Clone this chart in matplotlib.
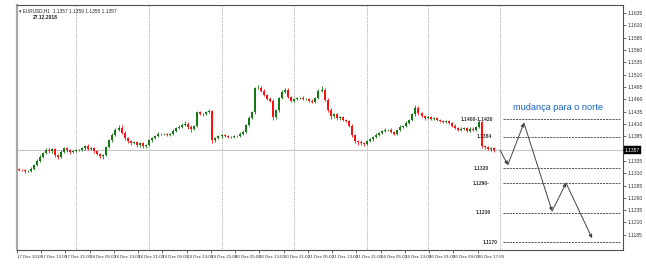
import matplotlib
matplotlib.use("Agg")
import matplotlib.pyplot as plt
import numpy as np

# ---------------- data ----------------
closes = [
1.1317,1.1316,1.1314,1.1315,1.1319,1.1327,1.1335,1.1343,1.1351,1.1357,
1.1355,1.1359,1.1347,1.1343,1.1353,1.1361,1.1357,1.1353,1.1355,1.1357,
1.1357,1.1361,1.1365,1.1359,1.1361,1.1355,1.1349,1.1345,1.1347,1.1363,
1.1377,1.1388,1.1398,1.1402,1.1392,1.1381,1.1375,1.1371,1.1373,1.1367,
1.1371,1.1365,1.1367,1.1377,1.1381,1.1385,1.1390,1.1390,1.1390,1.1388,
1.1390,1.1396,1.1402,1.1404,1.1408,1.1410,1.1404,1.1400,1.1406,1.1434,
1.1430,1.1430,1.1434,1.1436,1.1377,1.1381,1.1385,1.1388,1.1385,1.1384,
1.1384,1.1385,1.1385,1.1390,1.1394,1.1408,1.1422,1.1434,1.1483,1.1483,
1.1477,1.1469,1.1461,1.1457,1.1424,1.1438,1.1463,1.1475,1.1479,1.1465,
1.1457,1.1461,1.1463,1.1463,1.1461,1.1461,1.1457,1.1455,1.1463,1.1477,
1.1479,1.1459,1.1438,1.1426,1.1430,1.1422,1.1424,1.1418,1.1416,1.1406,
1.1388,1.1375,1.1373,1.1371,1.1369,1.1375,1.1379,1.1384,1.1388,1.1392,
1.1396,1.1398,1.1398,1.1394,1.1390,1.1398,1.1404,1.1406,1.1412,1.1418,
1.1430,1.1442,1.1432,1.1426,1.1422,1.1424,1.1420,1.1422,1.1418,1.1416,
1.1414,1.1416,1.1412,1.1406,1.1402,1.1398,1.1400,1.1402,1.1396,1.1400,
1.1398,1.1404,1.1414,1.1365,1.1363,1.1359,1.1361,1.1357]
first_open = 1.1318

upper_wick_pips = [
2,1,2,1,3,2,3,4,3,5, 4,3,2,3,4,3,2,3,2,2, 2,3,2,4,2,2,3,2,2,3,
3,4,3,5,6,3,2,3,2,3, 2,3,2,2,3,2,3,2,2,2, 2,3,2,4,3,6,4,3,2,2,
3,2,2,4,3,3,2,2,2,3, 2,2,2,3,3,2,4,3,2,6, 5,3,2,4,3,3,2,3,4,3,
2,2,2,2,3,2,2,3,2,3, 8,3,3,4,3,2,3,2,2,3, 3,2,3,4,2,2,3,2,3,2,
2,3,2,3,2,2,3,2,3,2, 3,6,4,3,2,3,2,3,2,3, 2,2,3,2,3,2,3,2,2,3,
3,2,4,3,2,3,2,2]
lower_wick_pips = [
2,2,3,2,3,2,3,2,3,2, 3,4,5,4,3,2,3,3,2,2, 2,2,3,2,2,3,3,4,6,3,
2,3,2,2,3,3,3,4,2,3, 4,3,3,2,3,2,2,2,3,2, 2,2,3,2,2,2,5,6,2,3,
2,3,2,2,6,3,2,3,2,2, 2,2,2,2,3,2,3,2,3,2, 2,3,2,3,6,4,3,2,2,3,
3,2,2,2,2,3,2,3,2,2, 2,3,4,6,3,3,4,2,3,3, 4,3,6,3,4,2,2,3,2,3,
2,2,3,2,3,2,2,2,3,2, 2,3,3,2,3,2,2,2,3,2, 2,3,2,3,2,3,2,2,3,2,
2,2,2,3,4,2,3,3]

x_labels = ["17 Dec 2018", "17 Dec 13:00", "17 Dec 21:00", "18 Dec 05:00",
            "18 Dec 13:00", "18 Dec 21:00", "19 Dec 05:00", "19 Dec 13:00",
            "19 Dec 21:00", "20 Dec 05:00", "20 Dec 13:00", "20 Dec 21:00",
            "21 Dec 05:00", "21 Dec 13:00", "21 Dec 21:00", "24 Dec 05:00",
            "24 Dec 13:00", "26 Dec 01:00", "26 Dec 09:00", "26 Dec 17:00"]
day_breaks = [19, 43, 67, 91, 115, 135, 159]

y_ticks = [1.1185, 1.1210, 1.1235, 1.1260, 1.1285, 1.1310, 1.1335,
           1.1385, 1.1410, 1.1435, 1.1460, 1.1485, 1.1510, 1.1535,
           1.1560, 1.1585, 1.1610, 1.1635]

level_values = [1.1420, 1.1384, 1.1320, 1.1290, 1.1230, 1.1170]
level_labels = ["1.1400-1.1420", "1.1384", "1.1320", "1.1290-", "1.1230", "1.1170"]

path_bars = [158.9, 161.5, 166.8, 176.1, 180.7, 189.3]
path_prices = [1.1357, 1.1327, 1.1412, 1.1233, 1.1290, 1.1178]

header = "EURUSD,H1  1.1357 1.1359 1.1355 1.1357"
date_text = "27.12.2018"
annotation = "mudança para o norte"

FAM = ["Liberation Sans", "DejaVu Sans"]

# ---------------- figure ----------------
W, H = 646, 266
fig = plt.figure(figsize=(W / 100, H / 100), dpi=100)
ax = fig.add_axes([17 / W, 16 / H, 606 / W, 245 / H])
ax.set_xlim(-0.5, 199.5)
ax.set_ylim(1.11541, 1.16515)

n = len(closes)
xs = np.arange(n)
c = np.array(closes)
o = np.array([first_open] + closes[:-1])
hi = np.maximum(o, c) + np.array(upper_wick_pips) * 0.0001
lo = np.minimum(o, c) - np.array(lower_wick_pips) * 0.0001
bull = c >= o
GREEN = "#137a13"
RED = "#ff1010"
cols = np.where(bull, GREEN, RED)

# grid / bid line
for b in day_breaks:
    ax.axvline(b, color="#6a6a6a", lw=0.5, ls=(0, (1.0, 1.6)), zorder=1)
ax.axhline(closes[-1], color="#c4c4c4", lw=0.8, zorder=1)

ax.vlines(xs, lo, hi, colors=cols, lw=0.6, zorder=2)
body_h = np.maximum(np.abs(c - o), 0.00004)
ax.bar(xs, body_h, bottom=np.minimum(o, c), width=0.66, color=cols,
       edgecolor="none", zorder=3)

# levels
lab_x = [156.6, 156.3, 155.2, 155.6, 155.8, 158.2]
for v, t, lx in zip(level_values, level_labels, lab_x):
    ax.plot([160, 198.5], [v, v], color="#555555", lw=0.7,
            ls=(0, (2.2, 1.0)), zorder=2)
    ax.text(lx, v, t, ha="right", va="center", fontsize=3.6,
            fontweight="bold", color="#333333", family=FAM)

# zigzag arrows
for i in range(len(path_bars) - 1):
    ax.annotate("", xy=(path_bars[i + 1], path_prices[i + 1]),
                xytext=(path_bars[i], path_prices[i]),
                arrowprops=dict(arrowstyle="-|>", lw=0.7, color="#444444",
                                mutation_scale=5, shrinkA=0, shrinkB=0),
                zorder=4)

ax.text(178, 1.1443, annotation, ha="center", va="center", fontsize=6.6,
        color="#1560c8", family=FAM)

# header texts
ax.text(0.004, 0.985, "\u25be " + header, transform=ax.transAxes, ha="left",
        va="top", fontsize=3.4, color="#222222", family=FAM)
ax.text(0.046, 0.95, date_text, transform=ax.transAxes, ha="center",
        va="center", fontsize=3.6, color="#222222", fontweight="bold",
        family=FAM)

# axes styling
ax.yaxis.tick_right()
ax.set_yticks(y_ticks)
ax.set_yticklabels([f"{v:.4f}" for v in y_ticks], fontsize=3.6,
                   family=FAM, color="#333333")
ax.set_xticks([8 * k - 0.5 for k in range(len(x_labels))])
ax.set_xticklabels(x_labels, fontsize=3.2, family=FAM, color="#333333")
for lbl in ax.get_xticklabels():
    lbl.set_ha("left")
ax.tick_params(axis="both", length=2, width=0.5, pad=1.5, colors="#333333")

for s in ["top", "right", "bottom"]:
    ax.spines[s].set_color("#505050")
    ax.spines[s].set_linewidth(0.8)
ax.spines["left"].set_color("#a8a8a8")
ax.spines["left"].set_linewidth(1.6)

# current price box
ax.text(1.003, closes[-1], f"{closes[-1]:.4f}", transform=ax.get_yaxis_transform(),
        ha="left", va="center", fontsize=3.6, color="white", family=FAM,
        bbox=dict(boxstyle="square,pad=0.25", fc="black", ec="black", lw=0.3))

fig.savefig("out.png", dpi=100)
